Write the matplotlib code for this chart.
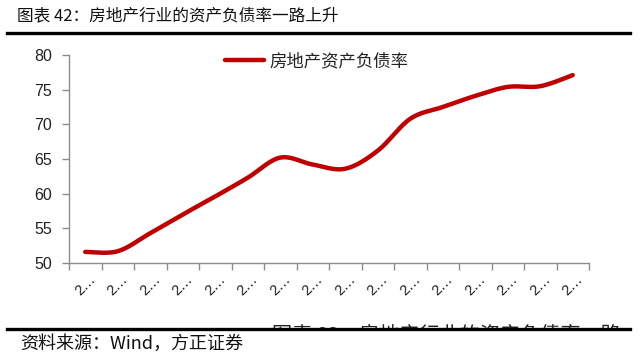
import numpy as np
import matplotlib
matplotlib.use("Agg")
import matplotlib.pyplot as plt
from matplotlib.patches import Rectangle
from matplotlib.lines import Line2D

plt.rcParams['font.family'] = ['Noto Sans CJK SC', 'DejaVu Sans']

# ---- data ----
categories = [str(y) for y in range(2002, 2018)]
tick_labels = [c[0] + '…' for c in categories]
debt_ratio = [51.6, 51.7, 54.3, 57.0, 59.6, 62.3, 65.2, 64.2, 63.6, 66.2,
              70.8, 72.5, 74.1, 75.4, 75.5, 77.1]
series_name = '房地产资产负债率'
title_text = '图表 42：房地产行业的资产负债率一路上升'
source_text = '资料来源：Wind，方正证券'
hidden_text = '图表 82：房地产行业的资产负债率一路'
y_ticks = [50, 55, 60, 65, 70, 75, 80]


def smooth(xs, ys, n=30):
    """Excel-style smoothed line (cubic Bezier with Catmull-Rom controls)."""
    xs = np.asarray(xs, float)
    ys = np.asarray(ys, float)
    px = np.concatenate([[xs[0]], xs, [xs[-1]]])
    py = np.concatenate([[ys[0]], ys, [ys[-1]]])
    outx, outy = [], []
    t = np.linspace(0, 1, n)
    for i in range(1, len(xs)):
        p0x, p1x, p2x, p3x = px[i - 1], px[i], px[i + 1], px[i + 2]
        p0y, p1y, p2y, p3y = py[i - 1], py[i], py[i + 1], py[i + 2]
        c1x, c1y = p1x + (p2x - p0x) / 6, p1y + (p2y - p0y) / 6
        c2x, c2y = p2x - (p3x - p1x) / 6, p2y - (p3y - p1y) / 6
        bx = (1 - t) ** 3 * p1x + 3 * (1 - t) ** 2 * t * c1x + 3 * (1 - t) * t ** 2 * c2x + t ** 3 * p2x
        by = (1 - t) ** 3 * p1y + 3 * (1 - t) ** 2 * t * c1y + 3 * (1 - t) * t ** 2 * c2y + t ** 3 * p2y
        outx.extend(bx)
        outy.extend(by)
    return np.array(outx), np.array(outy)


fig = plt.figure(figsize=(6.4, 3.53), dpi=100)
W, H = 640, 353
ax = fig.add_axes([69 / W, 1 - 263 / H, 520 / W, 208 / H])

x = np.arange(len(categories))
sx, sy = smooth(x, debt_ratio)
line_color = '#C00000'
ax.plot(sx, sy, color=line_color, lw=3.2, solid_capstyle='round', label=series_name)

ax.set_xlim(-0.5, len(categories) - 0.5)
ax.set_ylim(50, 80)
ax.set_yticks(y_ticks)
ax.set_yticklabels([str(v) for v in y_ticks], fontsize=11.5,
                   family=['Liberation Sans', 'DejaVu Sans'], color='#222222')

ax.set_xticks(np.arange(len(categories) + 1) - 0.5)
ax.set_xticklabels([])
ax.set_xticks(x, minor=True)
ax.set_xticklabels(tick_labels, minor=True, rotation=45, fontsize=10.5,
                   family=['Liberation Sans', 'DejaVu Sans'], color='#222222',
                   ha='center', va='center')
ax.tick_params(axis='x', which='minor', length=0, pad=16)
ax.tick_params(axis='x', which='major', length=5, color='#8c8c8c', width=1)
ax.tick_params(axis='y', length=5, color='#8c8c8c', width=1, pad=7)

for s in ['top', 'right']:
    ax.spines[s].set_visible(False)
for s in ['left', 'bottom']:
    ax.spines[s].set_color('#8c8c8c')
    ax.spines[s].set_linewidth(1)

ax.legend(loc='center', bbox_to_anchor=(0.477, 0.971), frameon=False,
          fontsize=12.5, handlelength=2.25, handletextpad=0.3,
          borderaxespad=0, labelcolor='#222222')

# title and rules
fig.text(17 / W, 1 - 16 / H, title_text, fontsize=12, va='center', ha='left',
         color='#111111')
fig.add_artist(Line2D([7 / W, 630 / W], [1 - 32.5 / H, 1 - 32.5 / H],
                      color='black', lw=2.4))

# partially hidden caption behind the bottom rule
fig.text(272 / W, 1 - 324.5 / H, hidden_text, fontsize=14.5, va='top', ha='left',
         color='#222222', zorder=3)
fig.add_artist(Rectangle((262 / W, 0), 1 - 262 / W, 1 - 329 / H,
                         transform=fig.transFigure, facecolor='white',
                         edgecolor='none', zorder=4))
fig.add_artist(Line2D([7 / W, 630 / W], [1 - 328.5 / H, 1 - 328.5 / H],
                      color='black', lw=2.4, zorder=5))

fig.text(20 / W, 1 - 344 / H, source_text, fontsize=13, va='center', ha='left',
         color='#111111', style='italic')

fig.savefig('out.png', dpi=100)
